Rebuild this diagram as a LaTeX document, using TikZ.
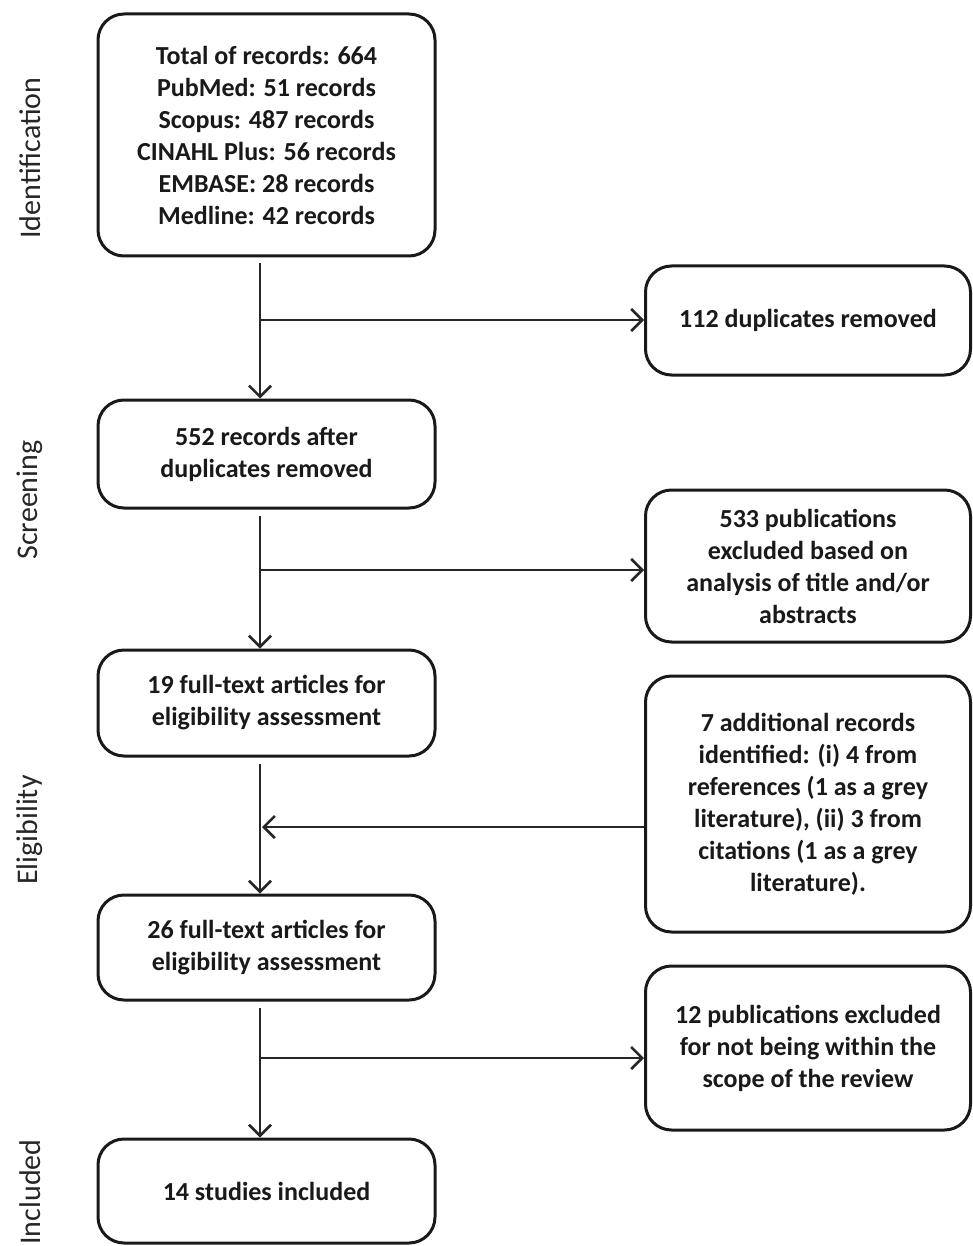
\documentclass[tikz,border=0pt]{standalone}
\usepackage{fontspec}
\setmainfont{Carlito}
\usetikzlibrary{arrows.meta}
\begin{document}
\begin{tikzpicture}[x=1pt,y=-1pt,
  box/.style={draw=black!90, line width=3pt, rounded corners=26pt, align=center,
    font=\fontsize{26}{32}\selectfont\bfseries, inner sep=0pt, text=black!90},
  arr/.style={draw=black!85, line width=2.6pt, -{Straight Barb[length=11pt,width=22pt,line width=2.6pt]}},
  side/.style={rotate=90, font=\fontsize{30}{32}\selectfont, text=black!85}]
\useasboundingbox (0,0) rectangle (973,1246);
% main column
\node[box, minimum width=337pt, minimum height=242pt] (b1) at (266.5,135)
  {Total of records: 664\\PubMed: 51 records\\Scopus: 487 records\\CINAHL Plus: 56 records\\EMBASE: 28 records\\Medline: 42 records};
\node[box, minimum width=337pt, minimum height=108pt] (b2) at (266.5,454)
  {552 records after\\duplicates removed};
\node[box, minimum width=337pt, minimum height=106pt] (b3) at (266.5,703)
  {19 full-text articles for\\eligibility assessment};
\node[box, minimum width=337pt, minimum height=105pt] (b4) at (266.5,947.5)
  {26 full-text articles for\\eligibility assessment};
\node[box, minimum width=337pt, minimum height=104pt] (b5) at (266.5,1191)
  {14 studies included};
% right column
\node[box, minimum width=325pt, minimum height=109pt] (r1) at (808,320.5)
  {112 duplicates removed};
\node[box, minimum width=325pt, minimum height=152pt] (r2) at (808,566)
  {533 publications\\excluded based on\\analysis of title and/or\\abstracts};
\node[box, minimum width=325pt, minimum height=256pt] (r3) at (808,804)
  {7 additional records\\identified: (i) 4 from\\references (1 as a grey\\literature), (ii) 3 from\\citations (1 as a grey\\literature).};
\node[box, minimum width=325pt, minimum height=164pt] (r4) at (808,1048)
  {12 publications excluded\\for not being within the\\scope of the review};
% side labels
\node[side] (l1) at (30,158) {Identification};
\node[side] (l2) at (30,500) {Screening};
\node[side] (l3) at (30,830) {Eligibility};
\node[side] (l4) at (30,1192) {Included};
% junctions
\coordinate (j1) at (260,320);
\coordinate (j2) at (260,570);
\coordinate (j3) at (262,827);
\coordinate (j4) at (260,1058);
% connectors
\draw[arr, shorten <=6pt] (b1.south -| j1) -- (b2.north -| j1);
\draw[arr] (j1) -- (r1.west |- j1);
\draw[arr, shorten <=6pt] (b2.south -| j2) -- (b3.north -| j2);
\draw[arr] (j2) -- (r2.west |- j2);
\draw[arr, shorten <=6pt] (b3.south -| j1) -- (b4.north -| j1);
\draw[arr] (r3.west |- j3) -- (j3);
\draw[arr, shorten <=6pt] (b4.south -| j4) -- (b5.north -| j4);
\draw[arr] (j4) -- (r4.west |- j4);
\end{tikzpicture}
\end{document}
